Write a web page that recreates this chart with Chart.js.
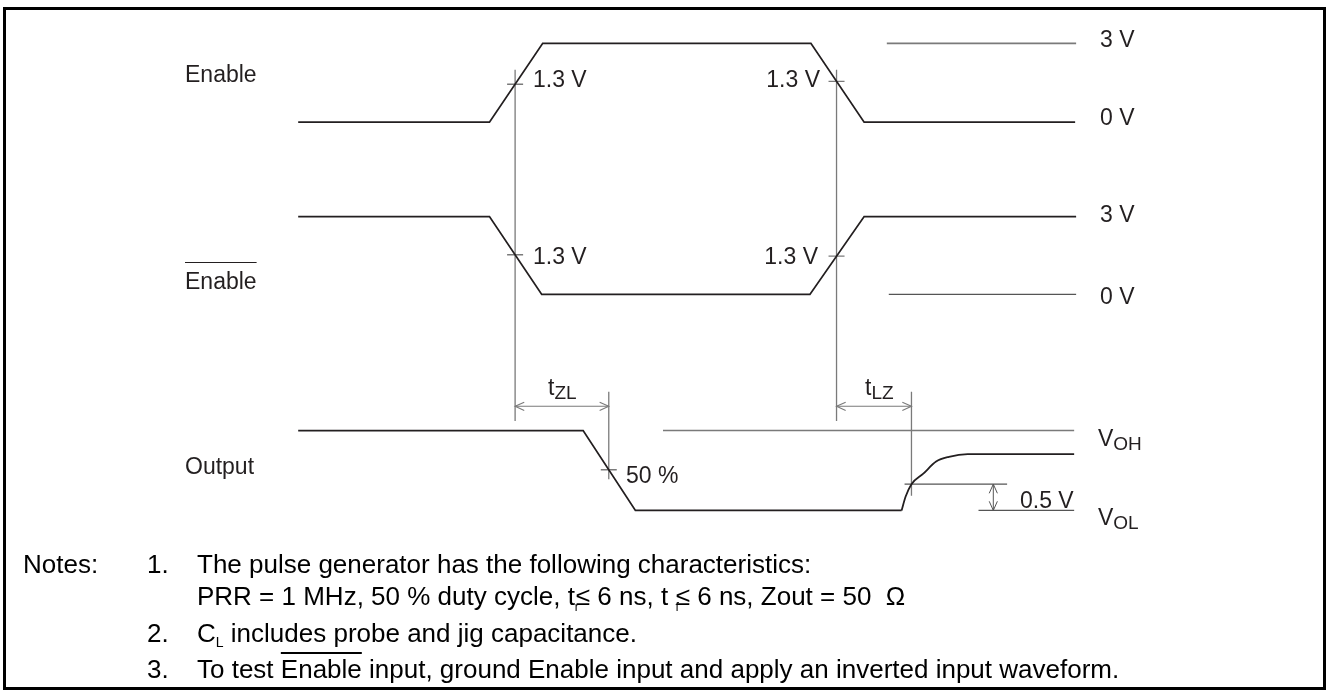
<!DOCTYPE html>
<html>
<head>
<meta charset="utf-8">
<script src="https://cdn.jsdelivr.net/npm/chart.js@4.4.0/dist/chart.umd.min.js"></script>
<style>
  body { margin: 0; background: #fff; }
  #wrap { position: relative; width: 1326px; height: 691px; overflow: hidden;
          font-family: "Liberation Sans", Arial, sans-serif; }
  #frame { position: absolute; left: 3px; top: 7px; width: 1317px; height: 677px; border: 3px solid #000; }
  #diagram { position: absolute; left: 0; top: 0; }
  .note { position: absolute; font-size: 26px; line-height: 30px; color: #000; white-space: nowrap; }
  .sub { font-size: 14px; vertical-align: -5px; }
  .tiny { font-size: 12px; vertical-align: -6px; margin-right: -3px; }
  .over { text-decoration: overline; }
</style>
</head>
<body>
<div id="wrap">
  <div id="frame"></div>
  <canvas id="diagram" width="1326" height="691"></canvas>
  <div class="note" style="left:23px; top:549px">Notes:</div>
  <div class="note" style="left:147px; top:549px">1.</div>
  <div class="note" style="left:197px; top:549px">The pulse generator has the following characteristics:</div>
  <div class="note" style="left:197px; top:581px">PRR = 1 MHz, 50 % duty cycle, t<span class="tiny">r</span>≤ 6 ns, t <span class="tiny">f</span>≤ 6 ns, Zout = 50&nbsp; Ω</div>
  <div class="note" style="left:147px; top:618px">2.</div>
  <div class="note" style="left:197px; top:618px">C<span class="sub">L</span> includes probe and jig capacitance.</div>
  <div class="note" style="left:147px; top:654px">3.</div>
  <div class="note" style="left:197px; top:654px">To test <span class="over">Enable</span> input, ground Enable input and apply an inverted input waveform.</div>
</div>
<script>
// time in arbitrary units (10 px per unit), levels in volts
const timeEnable = [0, 19.4, 24.8, 52.0, 57.4, 78.8];
const voltEnable = [0, 0, 3, 3, 0, 0];

const timeEnableBar = [0, 19.4, 24.7, 51.9, 57.4, 78.9];
const voltEnableBar = [3, 3, 0, 0, 3, 3];

// output falls to VOL, then recovers after disable (curve)
const timeOutput = [0, 28.9, 34.2, 61.2];
const voltOutput = [1.52, 1.52, 0, 0];
const timeRecovery = [61.2, 61.6, 62.2, 63.4, 64.7, 66.0, 67.9, 78.7];
const voltRecovery = [0, 0.26, 0.5, 0.70, 0.93, 1.02, 1.07, 1.07];

// reference levels drawn on the right
const refEnableTime = [59.7, 78.9];      // 3 V
const refEnableBarTime = [59.9, 78.9];   // 0 V
const refVohTime = [37.0, 78.7];         // VOH
const levelVoh = 1.52;
const stepUpperTime = [61.5, 71.9];      // VOL + 0.5 V
const stepLowerTime = [69.0, 78.7];      // VOL
const stepArrowTime = 70.5;

// measurement instants
const enableCross = [22.0, 54.6];        // 1.3 V crossings
const outputCross = [31.5, 62.2];        // 50 % / +0.5 V points

const W = 1326, H = 691;
const T0_PX = 293, PX_PER_T = 10;
const rows = {
  yEn:  { zero: 116, perUnit: 27 },
  yEnb: { zero: 293, perUnit: 26.67 },
  yOut: { zero: 515, perUnit: 54 }
};

const INK = '#231f20';
const GREY = '#7a7a7a';

function rowScale(r) {
  return { type: 'linear', display: false, min: -(H - r.zero) / r.perUnit, max: r.zero / r.perUnit };
}
function pts(ts, vs) { return ts.map((t, i) => ({ x: t, y: Array.isArray(vs) ? vs[i] : vs })); }
function interp(ts, vs, t) {
  for (let i = 1; i < ts.length; i++) {
    if (t <= ts[i]) {
      const f = (t - ts[i - 1]) / (ts[i] - ts[i - 1]);
      return vs[i - 1] + f * (vs[i] - vs[i - 1]);
    }
  }
  return vs[vs.length - 1];
}
function line(data, axis, color, width, extra) {
  return Object.assign({ data: data, yAxisID: axis, borderColor: color, borderWidth: width,
    showLine: true, pointRadius: 0, fill: false, tension: 0 }, extra || {});
}

const datasets = [
  line(pts(timeEnable, voltEnable), 'yEn', INK, 1.8),
  line(pts(timeEnableBar, voltEnableBar), 'yEnb', INK, 1.8),
  line(pts(timeOutput, voltOutput), 'yOut', INK, 1.8),
  line(pts(timeRecovery, voltRecovery), 'yOut', INK, 1.8, { cubicInterpolationMode: 'monotone' }),
  line(pts(refEnableTime, 3), 'yEn', GREY, 1.6),
  line(pts(refEnableBarTime, 0), 'yEnb', '#555', 1.4),
  line(pts(refVohTime, levelVoh), 'yOut', GREY, 1.4),
  line(pts(stepUpperTime, 0.5), 'yOut', '#555', 1.2),
  line(pts(stepLowerTime, 0), 'yOut', '#555', 1.2),
  line(pts([stepArrowTime, stepArrowTime], [0, 0.5]), 'yOut', '#555', 1, { arrowEnds: true }),
  // timing reference verticals (page units)
  line(pts([enableCross[0], enableCross[0]], [62, 423]), 'yPage', GREY, 1.3),
  line(pts([enableCross[1], enableCross[1]], [62, 423]), 'yPage', GREY, 1.3),
  line(pts([outputCross[0], outputCross[0]], [393, 483]), 'yPage', GREY, 1.3),
  line(pts([outputCross[1], outputCross[1]], [393, 500]), 'yPage', GREY, 1.3),
  // tZL / tLZ dimension arrows
  line(pts([enableCross[0], outputCross[0]], [408, 408]), 'yPage', GREY, 1.1, { arrowEnds: true }),
  line(pts([enableCross[1], outputCross[1]], [408, 408]), 'yPage', GREY, 1.1, { arrowEnds: true }),
  // crossing ticks
  { data: enableCross.map(t => ({ x: t, y: interp(timeEnable, voltEnable, t) })), yAxisID: 'yEn',
    showLine: false, pointStyle: 'line', pointRadius: 8, borderColor: GREY, borderWidth: 1.3 },
  { data: enableCross.map(t => ({ x: t, y: interp(timeEnableBar, voltEnableBar, t) })), yAxisID: 'yEnb',
    showLine: false, pointStyle: 'line', pointRadius: 8, borderColor: GREY, borderWidth: 1.3 },
  { data: [{ x: outputCross[0], y: interp(timeOutput, voltOutput, outputCross[0]) }], yAxisID: 'yOut',
    showLine: false, pointStyle: 'line', pointRadius: 8, borderColor: GREY, borderWidth: 1.3 }
];

// text placed in page pixels
const labels = [
  { t: 'Enable', x: 185, y: 82 },
  { t: 'Enable', x: 185, y: 289, over: true },
  { t: 'Output', x: 185, y: 474 },
  { t: '1.3 V', x: 533, y: 87 },
  { t: '1.3 V', x: 820, y: 87, align: 'right' },
  { t: '1.3 V', x: 533, y: 264 },
  { t: '1.3 V', x: 818, y: 264, align: 'right' },
  { t: '3 V', x: 1100, y: 47 },
  { t: '0 V', x: 1100, y: 125 },
  { t: '3 V', x: 1100, y: 222 },
  { t: '0 V', x: 1100, y: 304 },
  { t: 't', sub: 'ZL', x: 548, y: 395 },
  { t: 't', sub: 'LZ', x: 865, y: 395 },
  { t: '50 %', x: 626, y: 483 },
  { t: 'V', sub: 'OH', x: 1098, y: 446 },
  { t: 'V', sub: 'OL', x: 1098, y: 525 },
  { t: '0.5 V', x: 1020, y: 508 }
];

const arrowPlugin = {
  id: 'arrowEnds',
  afterDatasetsDraw(chart) {
    const ctx = chart.ctx;
    chart.data.datasets.forEach((ds, i) => {
      if (!ds.arrowEnds) return;
      const el = chart.getDatasetMeta(i).data;
      const a = el[0], b = el[el.length - 1];
      ctx.save();
      ctx.strokeStyle = ds.borderColor;
      ctx.lineWidth = ds.borderWidth;
      [[a, b], [b, a]].forEach(([p, q]) => {
        const ang = Math.atan2(q.y - p.y, q.x - p.x);
        const len = 10, spread = 0.42;
        ctx.beginPath();
        ctx.moveTo(p.x + len * Math.cos(ang - spread), p.y + len * Math.sin(ang - spread));
        ctx.lineTo(p.x, p.y);
        ctx.lineTo(p.x + len * Math.cos(ang + spread), p.y + len * Math.sin(ang + spread));
        ctx.stroke();
      });
      ctx.restore();
    });
  }
};

const textPlugin = {
  id: 'diagramText',
  afterDraw(chart) {
    const ctx = chart.ctx;
    ctx.save();
    ctx.fillStyle = INK;
    ctx.textBaseline = 'alphabetic';
    labels.forEach(l => {
      ctx.font = '23px "Liberation Sans", Arial, sans-serif';
      ctx.textAlign = l.align || 'left';
      ctx.fillText(l.t, l.x, l.y);
      const w = ctx.measureText(l.t).width;
      if (l.sub) {
        ctx.font = '19px "Liberation Sans", Arial, sans-serif';
        ctx.textAlign = 'left';
        ctx.fillText(l.sub, l.x + w, l.y + 4);
      }
      if (l.over) {
        ctx.strokeStyle = INK;
        ctx.lineWidth = 1;
        ctx.beginPath();
        ctx.moveTo(l.x, l.y - 26.5);
        ctx.lineTo(l.x + w, l.y - 26.5);
        ctx.stroke();
      }
    });
    ctx.restore();
  }
};

new Chart(document.getElementById('diagram'), {
  type: 'scatter',
  data: { datasets: datasets },
  options: {
    responsive: false,
    animation: false,
    devicePixelRatio: 1,
    layout: { padding: 0 },
    plugins: { legend: { display: false }, tooltip: { enabled: false } },
    events: [],
    scales: {
      x: { type: 'linear', display: false, min: -T0_PX / PX_PER_T, max: (W - T0_PX) / PX_PER_T },
      yEn: rowScale(rows.yEn),
      yEnb: rowScale(rows.yEnb),
      yOut: rowScale(rows.yOut),
      yPage: { type: 'linear', display: false, min: 0, max: H, reverse: true }
    }
  },
  plugins: [arrowPlugin, textPlugin]
});
</script>
</body>
</html>
